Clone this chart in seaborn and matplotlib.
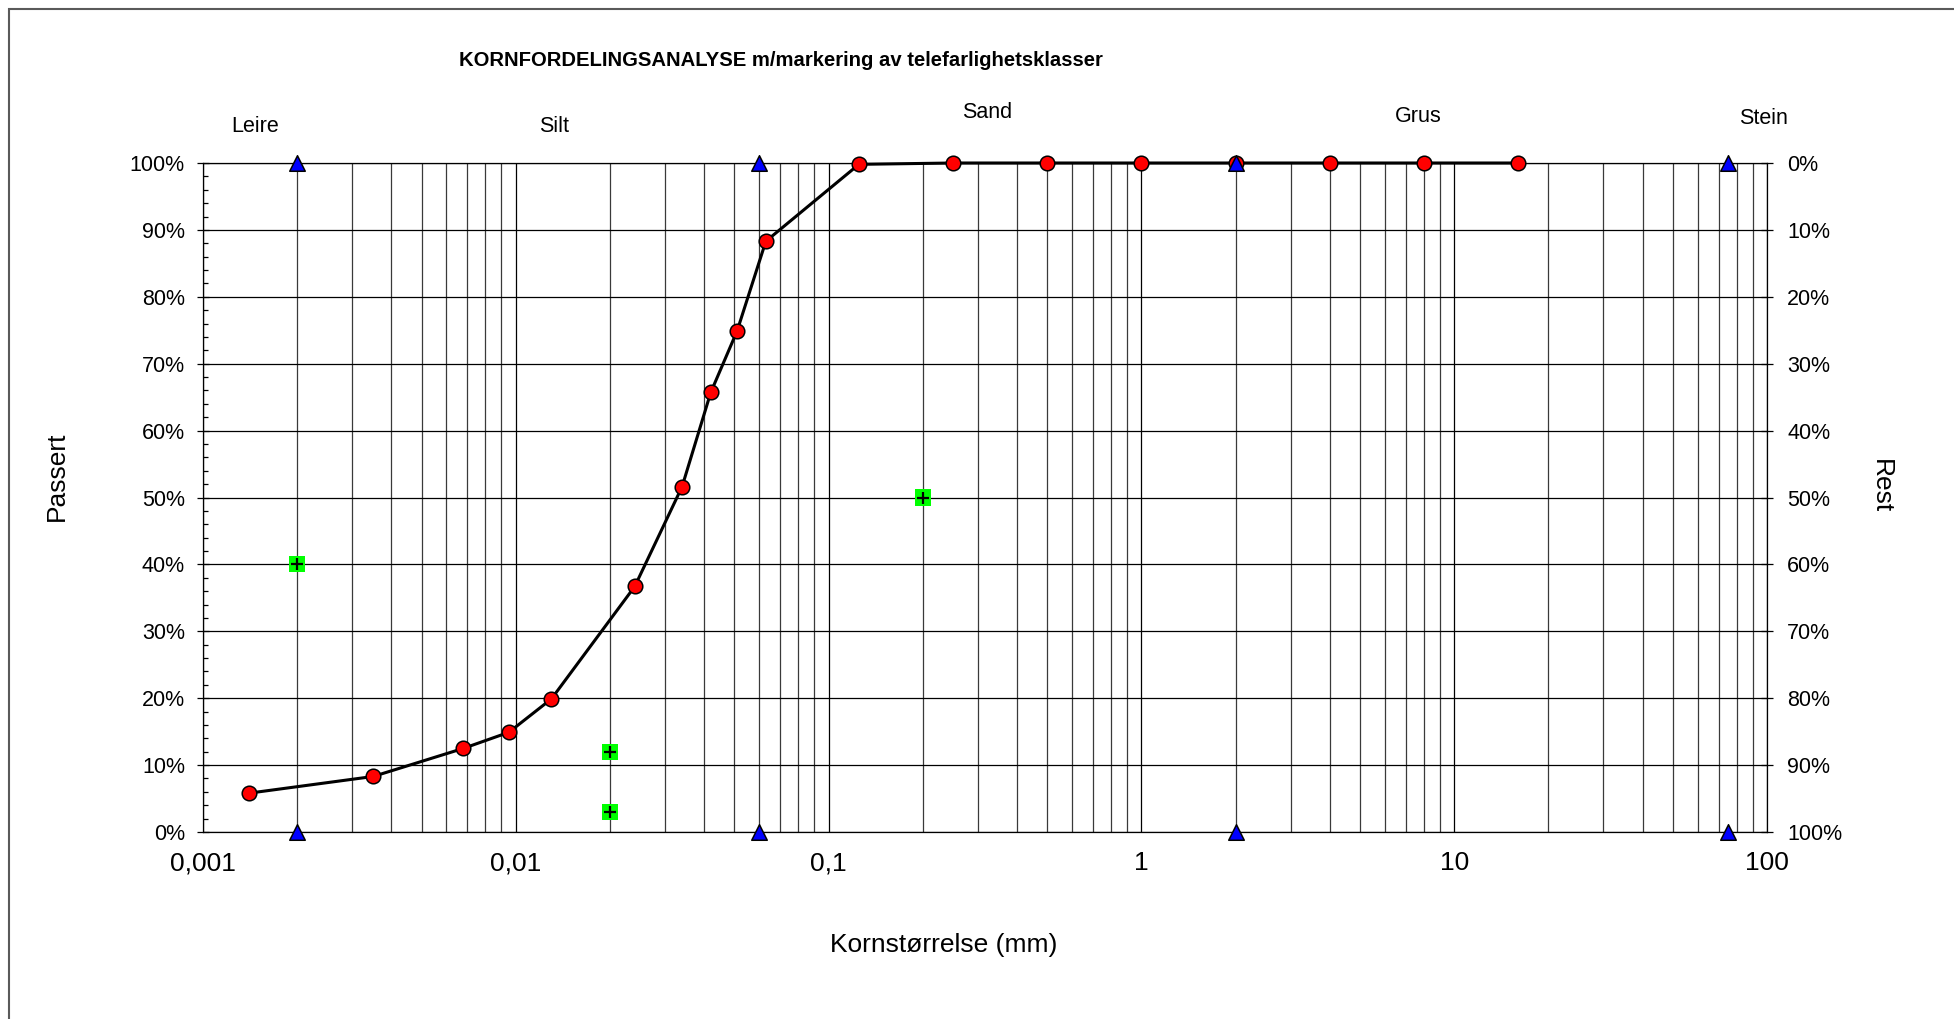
import matplotlib
matplotlib.use('Agg')
import matplotlib.pyplot as plt
import seaborn as sns
import numpy as np
import pandas as pd
from matplotlib.ticker import LogLocator, FixedLocator, FixedFormatter, NullFormatter, MultipleLocator
from matplotlib.patches import Rectangle

# ---------------- data ----------------
grain_size_mm = [0.0014, 0.0035, 0.0068, 0.0095, 0.013, 0.024, 0.034, 0.042, 0.051,
                 0.063, 0.125, 0.25, 0.5, 1, 2, 4, 8, 16]
passing_pct = [5.8, 8.3, 12.5, 14.9, 19.9, 36.7, 51.6, 65.7, 74.9,
               88.3, 99.8, 100, 100, 100, 100, 100, 100, 100]

class_limit_x = [0.002, 0.002, 0.06, 0.06, 2, 2, 75, 75]
class_limit_y = [0, 100, 0, 100, 0, 100, 0, 100]

frost_x = [0.002, 0.02, 0.02, 0.2]
frost_y = [40, 12, 3, 50]

class_names = ['Leire', 'Silt', 'Sand', 'Grus', 'Stein']

x_tick_values = [0.001, 0.01, 0.1, 1, 10, 100]
x_tick_labels = ['0,001', '0,01', '0,1', '1', '10', '100']
y_tick_values = [0, 10, 20, 30, 40, 50, 60, 70, 80, 90, 100]
y_tick_labels = [f'{v}%' for v in y_tick_values]
rest_tick_labels = [f'{100 - v}%' for v in y_tick_values]

title = 'KORNFORDELINGSANALYSE m/markering av telefarlighetsklasser'

# ---------------- style ----------------
sns.set_style('white')
plt.rcParams['font.family'] = ['Liberation Sans', 'DejaVu Sans']
plt.rcParams['text.color'] = 'black'
plt.rcParams['axes.labelcolor'] = 'black'
plt.rcParams['xtick.color'] = 'black'
plt.rcParams['ytick.color'] = 'black'

W, H = 1954, 1019
fig = plt.figure(figsize=(W / 100, H / 100), dpi=100)
L, R, T, B = 203, 1767, 163, 832
ax = fig.add_axes([L / W, 1 - B / H, (R - L) / W, (B - T) / H])
ax.set_xscale('log')
ax.set_xlim(0.001, 100)
ax.set_ylim(0, 100)

# grid
ax.xaxis.set_major_locator(FixedLocator(x_tick_values))
ax.xaxis.set_major_formatter(FixedFormatter(x_tick_labels))
ax.xaxis.set_minor_locator(LogLocator(base=10, subs=np.arange(2, 10), numticks=50))
ax.xaxis.set_minor_formatter(NullFormatter())
ax.yaxis.set_major_locator(FixedLocator(y_tick_values))
ax.yaxis.set_major_formatter(FixedFormatter(y_tick_labels))
ax.yaxis.set_minor_locator(MultipleLocator(2))
ax.grid(True, axis='x', which='major', color='#000000', lw=0.9)
ax.grid(True, axis='x', which='minor', color='#3a3a3a', lw=0.9)
ax.grid(True, axis='y', which='major', color='#000000', lw=0.9)
ax.set_axisbelow(True)

for s in ax.spines.values():
    s.set_color('black')
    s.set_linewidth(0.9)

ax.tick_params(axis='x', which='major', direction='out', length=6, width=0.9,
               labelsize=19, pad=8, colors='black')
ax.tick_params(axis='x', which='minor', length=0)
ax.tick_params(axis='y', which='major', direction='inout', length=8, width=0.9,
               labelsize=15.5, pad=9, colors='black', left=True)
ax.tick_params(axis='y', which='minor', direction='in', length=3.5, width=0.9, left=True)

# ---------------- marks ----------------
sns.lineplot(x=grain_size_mm, y=passing_pct, ax=ax, estimator=None, sort=False,
             color='black', linewidth=2.2, marker='o', markersize=10.5,
             markerfacecolor='#FF0000', markeredgecolor='black', markeredgewidth=1.1,
             clip_on=False, zorder=3)

sns.scatterplot(x=class_limit_x, y=class_limit_y, ax=ax, marker='^', s=125,
                color='#0000FF', edgecolor='black', linewidth=1.1, clip_on=False, zorder=4)

sns.scatterplot(x=frost_x, y=frost_y, ax=ax, marker='s', s=135,
                color='#00FF00', edgecolor='none', linewidth=0, clip_on=False, zorder=4)
sns.scatterplot(x=frost_x, y=frost_y, ax=ax, marker='+', s=85,
                color='black', linewidth=1.6, clip_on=False, zorder=5)

# right axis
ax2 = ax.twinx()
ax2.set_ylim(100, 0)
ax2.set_yticks([100 - v for v in y_tick_values])
ax2.set_yticklabels(rest_tick_labels)
ax2.tick_params(axis='y', which='major', direction='inout', length=9, width=0.9,
                labelsize=15.5, pad=10, colors='black')
for s in ax2.spines.values():
    s.set_visible(False)
ax2.grid(False)

# ---------------- texts ----------------
def px_text(x, y, s, **kw):
    fig.text(x / W, 1 - y / H, s, ha='center', va='center', color='black', **kw)

px_text(781, 60, title, fontsize=14.6, fontweight='bold',
        family=['Liberation Sans Narrow', 'Liberation Sans', 'DejaVu Sans'])

section_pos = [(255, 127), (554, 127), (987, 112), (1418, 116), (1763, 118)]
for name, (px, py) in zip(class_names, section_pos):
    px_text(px, py, name, fontsize=15.5)

px_text(944, 945, 'Kornstørrelse (mm)', fontsize=19)
px_text(57, 476, 'Passert', fontsize=19, rotation=90)
px_text(1881, 486, 'Rest', fontsize=19, rotation=-90)

# figure border (only top and left visible)
fig.add_artist(Rectangle((8.5 / W, -0.5), 2.0, 1.5 - 8.5 / H, transform=fig.transFigure,
                         fill=False, edgecolor='#5a5a5a', linewidth=1.5))

fig.savefig('out.png', dpi=100)
